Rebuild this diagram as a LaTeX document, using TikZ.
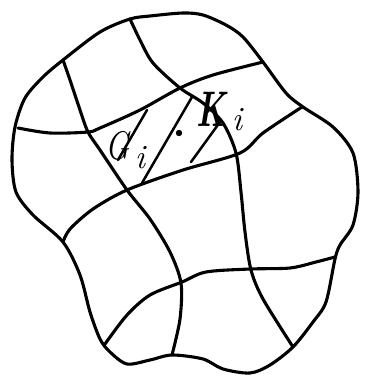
\documentclass[tikz,border=0pt]{standalone}
\usepackage{fontspec}
\usepackage{graphicx}
\begin{document}
\begin{tikzpicture}[x=1pt,y=-1pt,
  ink/.style={line width=3.1pt, line cap=round, line join=round},
  hatch/.style={line width=2.5pt, line cap=round},
  lbl/.style={inner sep=0pt}]
\useasboundingbox (0,0) rectangle (366,384);
% outer boundary
\draw[ink] plot[smooth cycle, tension=0.5] coordinates {
 (130,19) (100,32) (63,60) (43,77) (25,98) (15,127) (12,160) (16,192) (33,215) (63,242)
 (80,275) (90,312) (100,339) (110,352) (127,364) (150,360) (172,355) (203,359) (223,369)
 (250,373) (270,365) (293,347) (313,322) (326,302) (335,259) (340,245) (353,225) (358,192)
 (353,153) (333,127) (303,107) (286,93) (263,62) (243,37) (226,25) (203,15) (183,13) (150,16)};
% horizontal grid lines
\draw[ink] plot[smooth, tension=0.5] coordinates {(18,128) (50,133) (88,132) (100,128) (140,110) (180,88) (213,75) (263,62)};
\draw[ink] plot[smooth, tension=0.5] coordinates {(63,242) (70,229) (93,209) (127,190) (183,170) (240,153) (263,133) (302,107)};
\draw[ink] plot[smooth, tension=0.5] coordinates {(105,344) (127,315) (150,295) (182,282) (206,272) (250,269) (290,268) (316,262) (335,257)};
% vertical grid lines
\draw[ink] plot[smooth, tension=0.5] coordinates {(63,60) (70,80) (80,110) (88,132) (100,150) (127,190) (150,219) (170,252) (181,283) (180,319) (172,355)};
\draw[ink] plot[smooth, tension=0.5] coordinates {(130,19) (140,40) (153,63) (180,88) (203,103) (223,123) (236,153) (241,192) (245,232) (251,270) (263,299) (293,347)};
% hatch lines
\draw[hatch] (147,110) -- (118,160);
\draw[hatch] (192,97) -- (142,183);
\draw[hatch] (220,122) -- (191,162);
% point
\fill (179,133) circle (3.2pt);
% labels
\node[lbl] (g) at (118,146) {\scalebox{0.8}[1]{\fontsize{40}{40}\selectfont\itshape G}};
\node[lbl] (gi) at (140,158) {\fontsize{34}{34}\selectfont\itshape i};
\node[lbl] (k) at (211,109) {\scalebox{0.65}[1]{\fontsize{50}{50}\selectfont\bfseries\itshape K}};
\node[lbl] (ki) at (237,120) {\fontsize{34}{34}\selectfont\itshape i};
\end{tikzpicture}
\end{document}
